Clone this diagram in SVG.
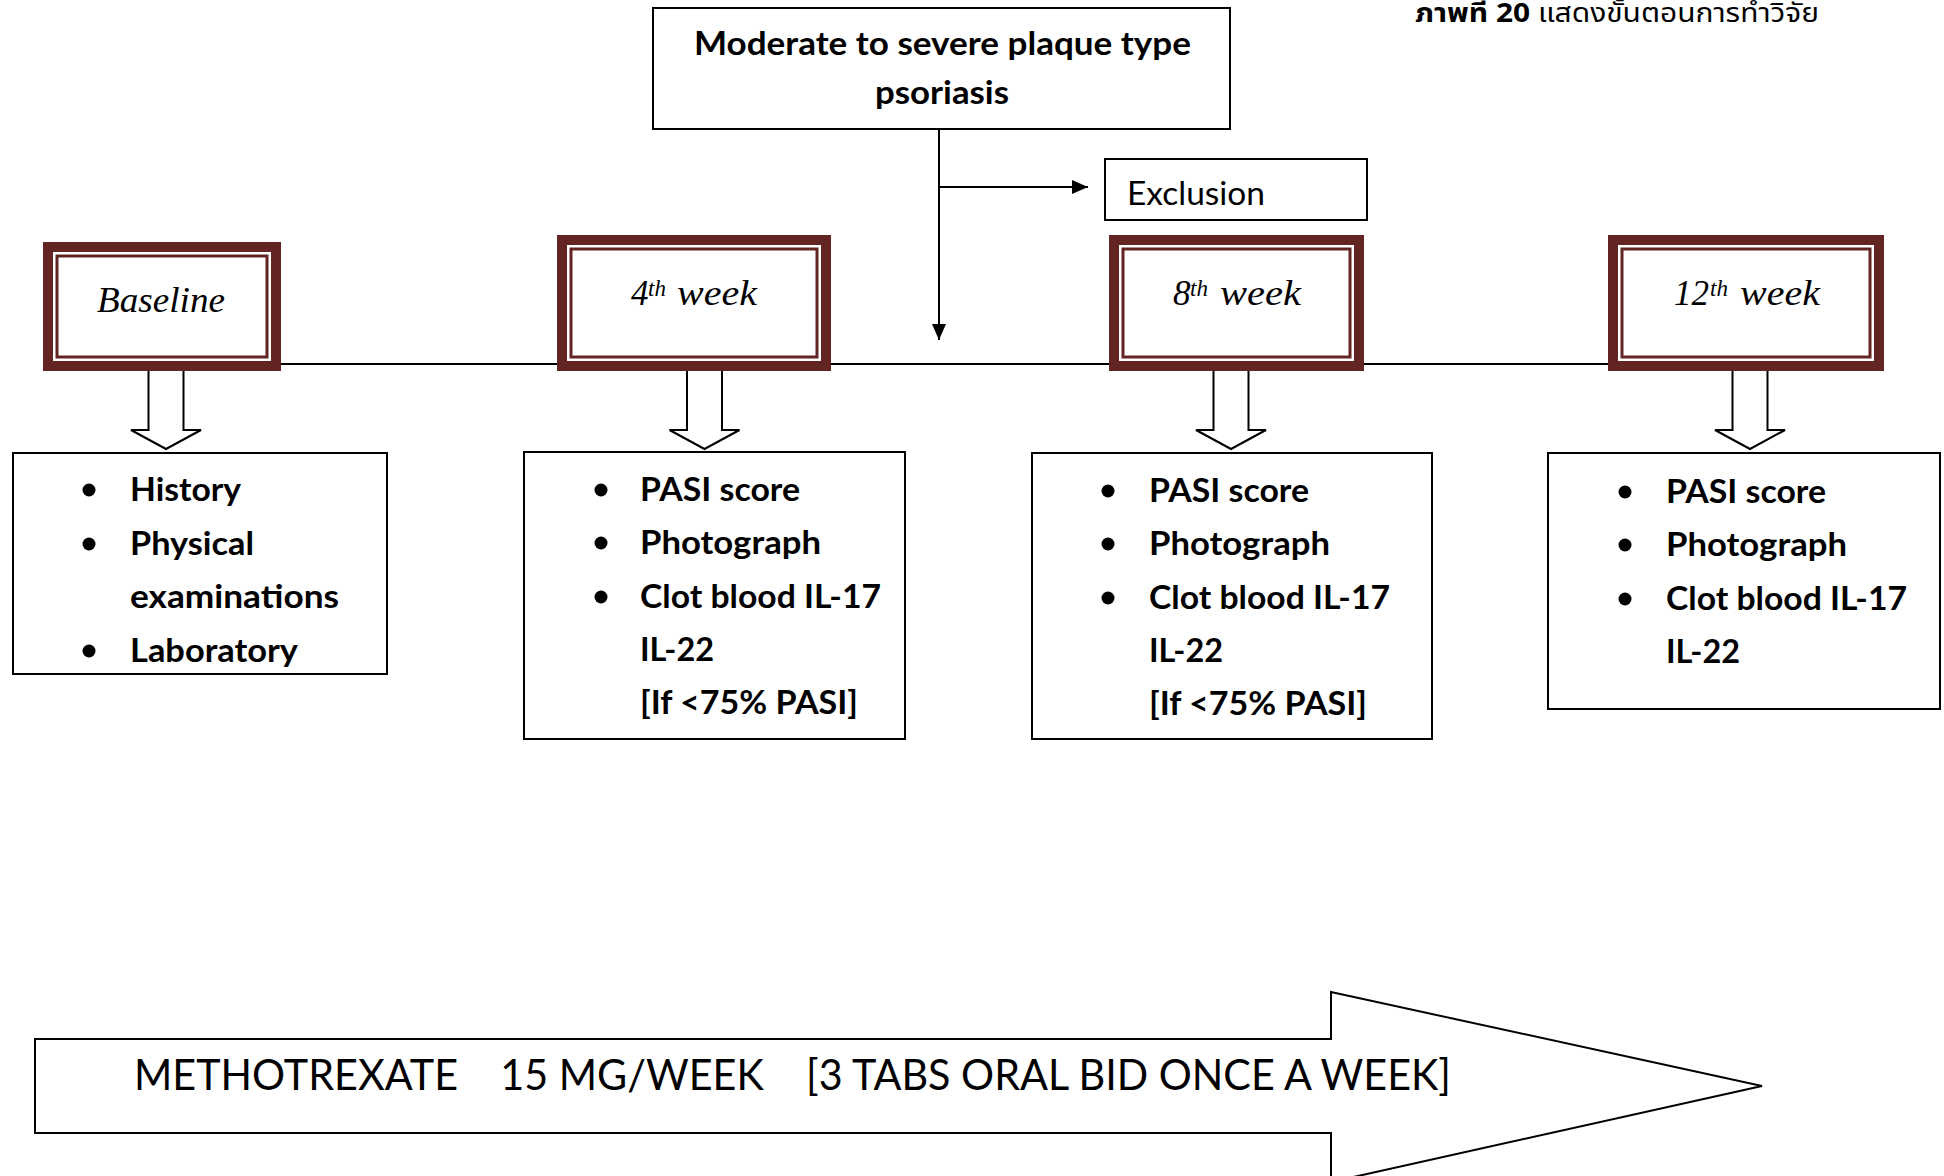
<svg xmlns="http://www.w3.org/2000/svg" width="1944" height="1176" viewBox="0 0 1944 1176">
<style>
.box{fill:#fff;stroke:#000;stroke-width:2}
.outer{fill:#fff;stroke:#632523;stroke-width:10}
.inner{fill:none;stroke:#632523;stroke-width:3}
.line{fill:none;stroke:#000;stroke-width:2}
.blk{fill:#fff;stroke:#000;stroke-width:2;stroke-linejoin:miter}
.b{font-family:Lato,"Open Sans","Liberation Sans",sans-serif;font-weight:bold;font-size:33px;fill:#000}
.r{font-family:Lato,"Open Sans","Liberation Sans",sans-serif;font-size:33px;fill:#000}
.it{font-family:"Liberation Serif",serif;font-style:italic;font-size:35px;fill:#000}
.sup{font-size:23px}
.th{font-family:"Noto Sans Thai","Noto Sans","DejaVu Sans",sans-serif;font-size:27px;fill:#000}
</style>
<defs>
<marker id="ah" viewBox="0 0 16 14" refX="16" refY="7" markerWidth="16" markerHeight="14" markerUnits="userSpaceOnUse" orient="auto">
<path d="M0,0 L16,7 L0,14 z" fill="#000"/>
</marker>
<clipPath id="clipBase"><rect x="14" y="454" width="372" height="219"/></clipPath>
</defs>
<rect width="1944" height="1176" fill="#fff"/>

<g id="caption">
<text class="th" x="1415" y="22" textLength="404" lengthAdjust="spacingAndGlyphs"><tspan font-weight="bold">ภาพที่ 20</tspan> แสดงขั้นตอนการทำวิจัย</text>
</g>

<g id="connectors">
<line class="line" x1="281" y1="364" x2="1608" y2="364"/>
<line class="line" x1="939" y1="129" x2="939" y2="340" marker-end="url(#ah)"/>
<line class="line" x1="939" y1="187" x2="1088" y2="187" marker-end="url(#ah)"/>
<path class="blk" d="M148.5,371 V430 H131 L166,449 L201,430 H183.5 V371"/>
<path class="blk" d="M687,371 V430 H669.5 L704.5,449 L739.5,430 H722 V371"/>
<path class="blk" d="M1213.5,371 V430 H1196 L1231,449 L1266,430 H1248.5 V371"/>
<path class="blk" d="M1732.5,371 V430 H1715 L1750,449 L1785,430 H1767.5 V371"/>
</g>

<g id="node-psoriasis">
<rect class="box" x="653" y="8" width="577" height="121"/>
<text class="b" x="694" y="55" textLength="497" lengthAdjust="spacingAndGlyphs">Moderate to severe plaque type</text>
<text class="b" x="875" y="104" textLength="134" lengthAdjust="spacingAndGlyphs">psoriasis</text>
</g>

<g id="node-exclusion">
<rect class="box" x="1105" y="159" width="262" height="61"/>
<text class="r" x="1127" y="205" textLength="138" lengthAdjust="spacingAndGlyphs">Exclusion</text>
</g>

<g id="node-baseline">
<rect class="outer" x="48" y="247" width="228" height="119"/>
<rect class="inner" x="57" y="256" width="210" height="101"/>
<text class="it" x="97" y="312" textLength="128" lengthAdjust="spacingAndGlyphs">Baseline</text>
</g>

<g id="node-week4">
<rect class="outer" x="562" y="240" width="264" height="126"/>
<rect class="inner" x="571" y="249" width="246" height="108"/>
<text class="it"><tspan x="631" y="305">4</tspan><tspan class="sup" x="648" y="296">th </tspan><tspan x="677" y="305" textLength="80" lengthAdjust="spacingAndGlyphs">week</tspan></text>
</g>

<g id="node-week8">
<rect class="outer" x="1114" y="240" width="245" height="126"/>
<rect class="inner" x="1123" y="249" width="227" height="108"/>
<text class="it"><tspan x="1173" y="305">8</tspan><tspan class="sup" x="1190" y="296">th </tspan><tspan x="1220" y="305" textLength="81" lengthAdjust="spacingAndGlyphs">week</tspan></text>
</g>

<g id="node-week12">
<rect class="outer" x="1613" y="240" width="266" height="126"/>
<rect class="inner" x="1622" y="249" width="248" height="108"/>
<text class="it"><tspan x="1674" y="305">12</tspan><tspan class="sup" x="1710" y="296">th </tspan><tspan x="1740" y="305" textLength="80" lengthAdjust="spacingAndGlyphs">week</tspan></text>
</g>

<g id="node-baseline-tasks">
<rect class="box" x="13" y="453" width="374" height="221"/>
<g clip-path="url(#clipBase)">
<circle cx="89" cy="490" r="6.5"/>
<text class="b" x="130" y="501" textLength="111" lengthAdjust="spacingAndGlyphs">History</text>
<circle cx="89" cy="544" r="6.5"/>
<text class="b" x="130" y="555" textLength="124" lengthAdjust="spacingAndGlyphs">Physical</text>
<text class="b" x="130" y="608" textLength="209" lengthAdjust="spacingAndGlyphs">examinations</text>
<circle cx="89" cy="651" r="6.5"/>
<text class="b" x="130" y="662" textLength="168" lengthAdjust="spacingAndGlyphs">Laboratory</text>
</g>
</g>

<g id="node-week4-tasks">
<rect class="box" x="524" y="452" width="381" height="287"/>
<circle cx="601" cy="490" r="6.5"/>
<text class="b" x="640" y="501" textLength="160" lengthAdjust="spacingAndGlyphs">PASI score</text>
<circle cx="601" cy="543" r="6.5"/>
<text class="b" x="640" y="554" textLength="181" lengthAdjust="spacingAndGlyphs">Photograph</text>
<circle cx="601" cy="597" r="6.5"/>
<text class="b" x="640" y="608" textLength="241" lengthAdjust="spacingAndGlyphs">Clot blood IL-17</text>
<text class="b" x="640" y="661" textLength="74" lengthAdjust="spacingAndGlyphs">IL-22</text>
<text class="b" x="640" y="714" textLength="218" lengthAdjust="spacingAndGlyphs">[If &lt;75% PASI]</text>
</g>

<g id="node-week8-tasks">
<rect class="box" x="1032" y="453" width="400" height="286"/>
<circle cx="1108" cy="491" r="6.5"/>
<text class="b" x="1149" y="502" textLength="160" lengthAdjust="spacingAndGlyphs">PASI score</text>
<circle cx="1108" cy="544" r="6.5"/>
<text class="b" x="1149" y="555" textLength="181" lengthAdjust="spacingAndGlyphs">Photograph</text>
<circle cx="1108" cy="598" r="6.5"/>
<text class="b" x="1149" y="609" textLength="241" lengthAdjust="spacingAndGlyphs">Clot blood IL-17</text>
<text class="b" x="1149" y="662" textLength="74" lengthAdjust="spacingAndGlyphs">IL-22</text>
<text class="b" x="1149" y="715" textLength="218" lengthAdjust="spacingAndGlyphs">[If &lt;75% PASI]</text>
</g>

<g id="node-week12-tasks">
<rect class="box" x="1548" y="453" width="392" height="256"/>
<circle cx="1625" cy="492" r="6.5"/>
<text class="b" x="1666" y="503" textLength="160" lengthAdjust="spacingAndGlyphs">PASI score</text>
<circle cx="1625" cy="545" r="6.5"/>
<text class="b" x="1666" y="556" textLength="181" lengthAdjust="spacingAndGlyphs">Photograph</text>
<circle cx="1625" cy="599" r="6.5"/>
<text class="b" x="1666" y="610" textLength="241" lengthAdjust="spacingAndGlyphs">Clot blood IL-17</text>
<text class="b" x="1666" y="663" textLength="74" lengthAdjust="spacingAndGlyphs">IL-22</text>
</g>

<g id="node-methotrexate">
<path class="blk" d="M35,1039 H1331 V992 L1762,1086 L1331,1182 V1133 H35 Z"/>
<text class="r" x="134" y="1090" style="font-size:43px" xml:space="preserve" textLength="1317" lengthAdjust="spacingAndGlyphs">METHOTREXATE    15 MG/WEEK    [3 TABS ORAL BID ONCE A WEEK]</text>
</g>
</svg>
